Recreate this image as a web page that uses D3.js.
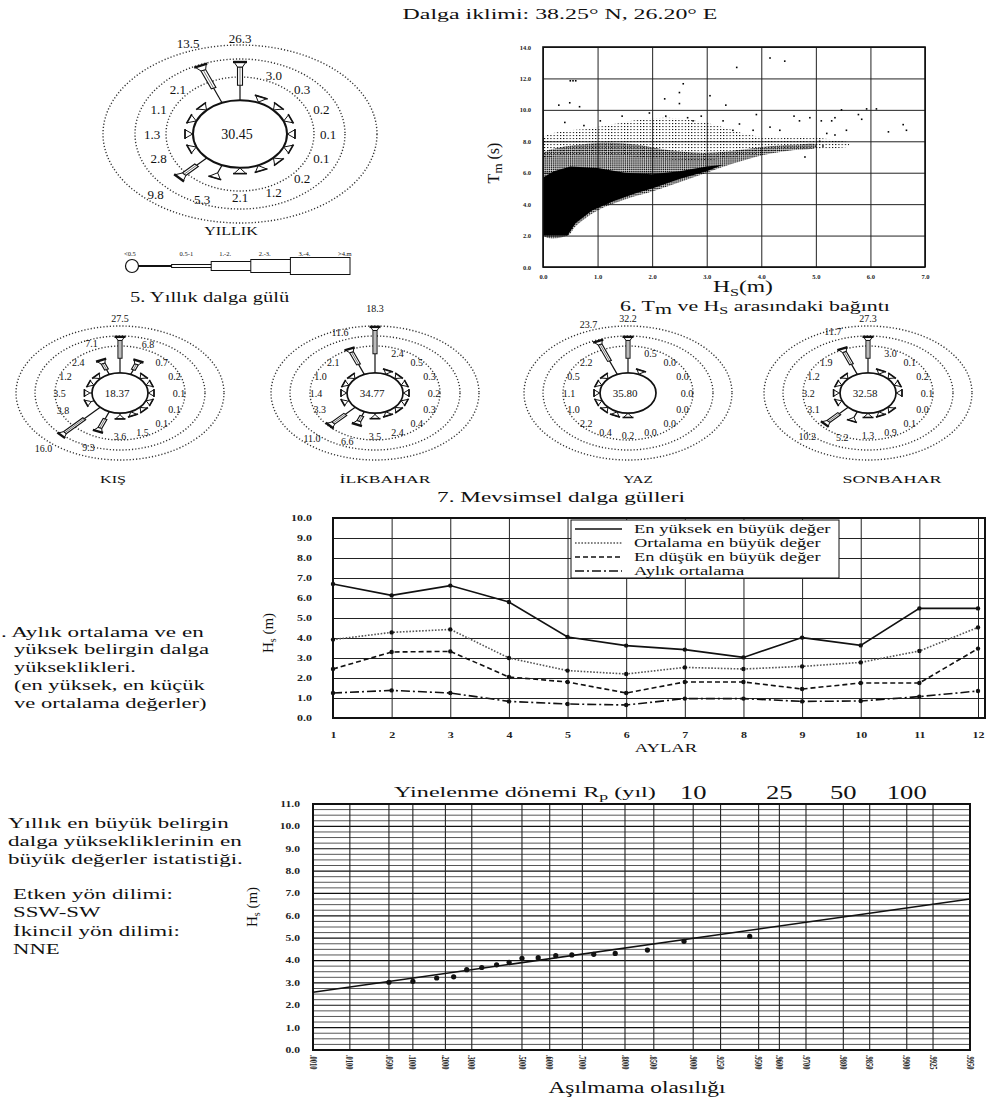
<!DOCTYPE html>
<html>
<head>
<meta charset="utf-8">
<script src="https://cdn.jsdelivr.net/npm/d3@7"></script>
<style>
body { margin: 0; background: #fff; }
svg, svg text { font-family: "Liberation Serif", "Times New Roman", "DejaVu Serif", serif; }
</style>
</head>
<body>
<svg id="page" width="989" height="1103"></svg>
<script>
// ---- wave roses (percent per direction, N clockwise) ----
var directions = ["N","NNE","NE","ENE","E","ESE","SE","SSE","S","SSW","SW","WSW","W","WNW","NW","NNW"];
var annualRose = [26.3,3.0,0.3,0.2,0.1,0.1,0.2,1.2,2.1,5.3,9.8,2.8,1.3,1.1,2.1,13.5];
var annualCalm = 30.45;
var seasonNames = ["KIŞ","İLKBAHAR","YAZ","SONBAHAR"];
var winterRose = [27.5,6.8,0.7,0.2,0.1,0.1,0.1,1.5,3.6,9.3,16.0,3.8,3.5,1.2,2.4,7.1];
var springRose = [18.3,2.4,0.5,0.3,0.2,0.3,0.4,2.4,3.5,6.6,11.0,3.3,1.4,1.0,2.1,11.6];
var summerRose = [32.2,0.5,0.0,0.0,0.0,0.0,0.0,0.0,0.2,0.4,2.2,1.0,1.1,0.5,2.2,23.7];
var autumnRose = [27.3,3.0,0.1,0.2,0.1,0.0,0.1,0.9,1.3,5.2,10.2,3.1,3.2,1.2,1.9,11.7];
var seasonCalm = [18.37,34.77,35.80,32.58];
var heightClasses = ["<0.5","0.5-1","1.-2.","2.-3.","3.-4.",">4.m"];

// ---- Tm vs Hs scatter: cloud outlines [Hs, Tm] and single points ----
var scatterCore = [[0.0,2.0],[0.45,2.0],[0.6,2.8],[0.9,3.6],[1.3,4.2],[1.7,4.7],[2.0,5.0],[2.5,5.6],[3.0,6.1],[3.3,6.5],
  [3.0,6.4],[2.5,6.1],[2.0,5.9],[1.5,6.0],[1.0,6.3],[0.5,6.4],[0.2,6.1],[0.0,5.7]];
var scatterHalo = [[0.0,5.5],[0.0,7.2],[0.3,7.6],[0.7,7.8],[1.2,7.9],[1.7,7.8],[2.2,7.5],[2.7,7.3],[3.2,7.3],[3.7,7.5],
  [4.2,7.7],[4.7,7.8],[5.0,7.8],[5.0,7.6],[4.5,7.4],[4.0,7.1],[3.5,6.6],[3.0,6.0],[2.5,5.4],[2.0,4.8],[1.5,4.3],
  [1.0,3.6],[0.6,2.6],[0.45,2.0],[0.0,2.0]];
var scatterFringe = [[0.0,7.0],[0.0,8.2],[0.3,8.6],[0.8,8.8],[1.3,9.1],[1.8,9.4],[2.3,9.5],[2.8,9.3],[3.3,8.9],[3.8,8.4],
  [4.3,8.2],[4.8,8.3],[5.3,8.1],[5.6,7.9],[5.6,7.7],[5.0,7.5],[4.3,7.4],[3.5,7.0],[3.0,6.8],[2.0,6.9],[1.0,7.2],[0.3,7.1]];
var scatterOutliers = [[0.50,11.85],[0.55,11.85],[0.60,11.85],[4.16,13.3],[4.43,13.1],[3.55,12.7],[2.57,11.66],[2.50,11.1],
  [2.23,10.7],[3.06,10.9],[2.50,10.4],[3.35,10.3],[0.29,10.3],[0.49,10.45],[0.67,10.2],[5.47,10.0],[5.93,10.06],[6.11,10.06],
  [5.78,9.7],[5.84,9.4],[6.33,8.6],[6.60,9.06],[6.66,8.7],[5.35,9.5],[5.29,9.3],[5.10,9.3],[4.89,9.5],[4.70,9.3],[4.60,9.6],
  [3.91,9.7],[5.56,8.7],[5.35,8.4],[5.20,8.5],[5.07,8.0],[5.13,7.7],[4.80,7.0],[3.60,9.1],[3.85,8.7],[4.16,8.9],[4.34,8.7],
  [3.30,9.3],[3.48,8.7],[2.75,9.3],[0.40,9.2],[0.75,9.0],[1.05,9.3],[1.45,9.6],[1.95,9.8],[2.25,9.6],[2.65,9.5],[2.90,9.6]];

// ---- monthly Hs (m) ----
var months = [1,2,3,4,5,6,7,8,9,10,11,12];
var maxOfMax = [6.70,6.13,6.62,5.80,4.05,3.62,3.42,3.03,4.02,3.63,5.48,5.48];
var meanOfMax = [3.92,4.28,4.43,3.00,2.37,2.20,2.53,2.45,2.58,2.78,3.35,4.53];
var minOfMax = [2.45,3.30,3.33,2.05,1.80,1.25,1.80,1.80,1.45,1.75,1.75,3.47];
var monthlyMean = [1.25,1.38,1.25,0.83,0.70,0.65,0.97,0.97,0.83,0.85,1.07,1.35];
var seriesNames = ["En yüksek en büyük değer","Ortalama en büyük değer","En düşük en büyük değer","Aylık ortalama"];

// ---- extreme value statistics ----
var probTicks = [0.001,0.01,0.05,0.1,0.2,0.3,0.5,0.6,0.7,0.8,0.85,0.9,0.925,0.95,0.96,0.97,0.98,0.985,0.99,0.9925,0.995];
var returnPeriods = [10,25,50,100];
var annualMaxP = [0.05,0.10,0.17,0.23,0.28,0.34,0.40,0.45,0.50,0.56,0.62,0.67,0.73,0.78,0.84,0.89,0.945];
var annualMaxHs = [3.03,3.07,3.22,3.27,3.59,3.69,3.81,3.92,4.10,4.13,4.22,4.25,4.28,4.32,4.47,4.86,5.08];
var fitP = [0.001,0.995];
var fitHs = [2.58,6.75];

var serif = "'Liberation Serif', 'Times New Roman', serif";
var svg = d3.select("#page").attr("font-family", serif);
svg.append("rect").attr("width",989).attr("height",1103).attr("fill","#fff");
var ink = "#111";

function label(x, y, s, size, anchor) {
  return svg.append("text").attr("x",x).attr("y",y).attr("font-size",size).attr("font-family",serif)
    .attr("text-anchor",anchor || "start").attr("fill",ink).text(s);
}
// the scan is stretched sideways: widen a text about its anchor x
function stretch(sel, f) {
  sel.each(function() {
    var t = d3.select(this), x0 = +t.attr("x") || 0;
    t.attr("transform", "translate(" + x0 * (1 - f) + ",0) scale(" + f + ",1)");
  });
  return sel;
}
function fit(sel, w) {
  return stretch(sel, w / sel.node().getBBox().width);
}

fit(label(560, 19, "Dalga iklimi: 38.25° N, 26.20° E", 15, "middle"), 315);

// ===== wave roses =====
var deg = Math.PI / 180;
function drawRose(values, calm, o) {
  var g = svg.append("g");
  g.append("g").attr("transform","translate(" + o.cx + "," + o.cy + ")")
    .selectAll("ellipse").data(o.ringRx).enter().append("ellipse")
      .attr("rx", function(d) { return d; })
      .attr("ry", function(d, i) { return o.ringRy[i]; })
      .attr("fill","none").attr("stroke","#333").attr("stroke-width",1.4)
      .attr("stroke-dasharray","1.2,2");

  var len = d3.scaleLinear().domain([o.p0, 20]).range([o.rc, o.rc + o.k * (20 - o.p0)]);
  function tipOf(p) { return p > 20 ? o.truncLen : Math.max(o.rc + o.minLen, len(p)); }

  var sg = g.append("g").attr("transform","translate(" + o.cx + "," + o.cy + ") scale(1," + o.sq + ")");
  var spokes = sg.selectAll("g.spoke")
      .data(values.map(function(v, i) { return {v: v, i: i}; }).filter(function(d) { return d.v > 0; }))
    .enter().append("g")
      .attr("class","spoke")
      .attr("transform", function(d) { return "rotate(" + d.i * 22.5 + ")"; });

  spokes.each(function(d) {
    var s = d3.select(this), t = tipOf(d.v), base = t - o.capL;
    var big = t - o.rc > 3 * o.capL;
    s.append("line").attr("x1",0).attr("x2",0).attr("y1",-o.rc).attr("y2",-base)
      .attr("stroke",ink).attr("stroke-width",1.2).attr("vector-effect","non-scaling-stroke");
    if (big) {
      var bl = (base - o.rc) * 0.55;
      s.append("rect").attr("x",-o.bodyW / 2).attr("y",-base).attr("width",o.bodyW).attr("height",bl)
        .attr("fill","#fff").attr("stroke",ink).attr("stroke-width",1.1).attr("vector-effect","non-scaling-stroke");
      s.append("line").attr("x1",0).attr("x2",0).attr("y1",-base).attr("y2",-base + bl)
        .attr("stroke","#555").attr("stroke-width",0.8).attr("vector-effect","non-scaling-stroke");
    }
    var bw = big ? o.bodyW : 1;
    s.append("path")
      .attr("d","M" + (-bw / 2) + "," + (-base) + "L" + (-o.capW / 2) + "," + (-t) +
                "L" + (o.capW / 2) + "," + (-t) + "L" + (bw / 2) + "," + (-base) + "Z")
      .attr("fill","#fff").attr("stroke",ink).attr("stroke-width",1).attr("vector-effect","non-scaling-stroke");
    s.append("line").attr("x1",-o.capW / 2 - 1).attr("x2",o.capW / 2 + 1).attr("y1",-t).attr("y2",-t)
      .attr("stroke",ink).attr("stroke-width",big ? 2.4 : 1.6).attr("vector-effect","non-scaling-stroke");
  });

  sg.append("circle").attr("r",o.rc).attr("fill","#fff").attr("stroke",ink)
    .attr("stroke-width",o.circleW).attr("vector-effect","non-scaling-stroke");

  g.selectAll("text.lab").data(values).enter().append("text")
    .attr("class","lab")
    .attr("x", function(v, i) { var r = Math.max(o.labelMin, tipOf(v) + o.labelOff); return o.cx + r * Math.sin(i * 22.5 * deg); })
    .attr("y", function(v, i) { var r = Math.max(o.labelMin, tipOf(v) + o.labelOff); return o.cy - r * Math.cos(i * 22.5 * deg) * o.sq; })
    .attr("dy","0.35em").attr("text-anchor","middle").attr("font-size",o.fsLabel).attr("fill",ink)
    .attr("font-family",serif)
    .text(function(v) { return d3.format(".1f")(v); });

  g.append("text").attr("x",o.cx - 3).attr("y",o.cy).attr("dy","0.35em").attr("text-anchor","middle")
    .attr("font-size",o.fsCenter).attr("fill",ink).attr("font-family",serif).text(d3.format(".2f")(calm));
  fit(g.append("text").attr("x",o.nameX).attr("y",o.nameY).attr("text-anchor","middle")
    .attr("font-size",o.fsName).attr("fill",ink).attr("font-family",serif).text(o.name), o.nameW);
}

drawRose(annualRose, annualCalm, {
  cx: 240, cy: 134, rc: 47, ringRx: [74,105,137], ringRy: [57,75,89], sq: 0.72,
  k: 4.5, p0: 1.1, minLen: 8, truncLen: 100, capL: 7, capW: 12, bodyW: 5, circleW: 2,
  labelMin: 86, labelOff: 33, fsLabel: 13, fsCenter: 14,
  name: "YILLIK", nameX: 231, nameY: 235, nameW: 54, fsName: 12
});

var seasonCx = [120, 375, 628, 868];
var seasonNameX = [113, 385, 638, 892];
var seasonNameW = [26, 92, 30, 100];
[winterRose, springRose, summerRose, autumnRose].forEach(function(vals, i) {
  drawRose(vals, seasonCalm[i], {
    cx: seasonCx[i], cy: 393, rc: 28, ringRx: [65,85,104], ringRy: [47,57,67], sq: 0.72,
    k: 3.8, p0: 1.5, minLen: 6, truncLen: 78, capL: 5, capW: 9, bodyW: 4, circleW: 1.7,
    labelMin: 53, labelOff: 25, fsLabel: 10, fsCenter: 11,
    name: seasonNames[i], nameX: seasonNameX[i], nameY: 483, nameW: seasonNameW[i], fsName: 11
  });
});

// height-class key under the annual rose
var keyX = d3.scalePoint().domain(heightClasses).range([132, 330]);
var keyG = svg.append("g");
keyG.append("circle").attr("cx",keyX("<0.5")).attr("cy",266).attr("r",6.5)
  .attr("fill","#fff").attr("stroke",ink).attr("stroke-width",1.2);
var keyH = [0, 1, 3, 9, 13, 17];
heightClasses.slice(1).forEach(function(c, i) {
  var x0 = keyX(heightClasses[i]) + (i === 0 ? 6.5 : 0), x1 = i === 4 ? 350 : keyX(heightClasses[i + 2]);
  var h = keyH[i + 1];
  keyG.append("rect").attr("x",x0).attr("y",266 - h / 2).attr("width",x1 - x0).attr("height",Math.max(h, 0.8))
    .attr("fill","#fff").attr("stroke",ink).attr("stroke-width",1);
});
keyG.selectAll("text").data(heightClasses).enter().append("text")
  .attr("x", function(d, i) { return keyX(d) + (i === 0 ? -8 : 8); })
  .attr("y",256).attr("font-size",6.5).attr("fill",ink).attr("font-family",serif).text(function(d) { return d; });
fit(label(130, 302, "5.  Yıllık dalga gülü", 15), 160);
fit(label(561, 502, "7.  Mevsimsel dalga gülleri", 15, "middle"), 248);

// ===== Tm vs Hs scatter =====
var defs = svg.append("defs");
defs.append("pattern").attr("id","stipDense").attr("patternUnits","userSpaceOnUse").attr("width",1.9).attr("height",1.9)
  .append("rect").attr("width",1.3).attr("height",1.3).attr("fill","#000");
defs.append("pattern").attr("id","stipLight").attr("patternUnits","userSpaceOnUse").attr("width",3.2).attr("height",3)
  .append("rect").attr("width",1.1).attr("height",1.1).attr("fill","#000");
defs.append("clipPath").attr("id","scClip").append("rect").attr("x",543).attr("y",47).attr("width",382).attr("height",220);

var sx = d3.scaleLinear().domain([0,7]).range([543,925]);
var sy = d3.scaleLinear().domain([0,14]).range([267,47]);
var sc = svg.append("g");

function styleAxis(a, size, f) {
  a.attr("font-family", serif);
  a.select(".domain").remove();
  a.selectAll(".tick line").attr("stroke","#222").attr("stroke-width",1);
  var t = a.selectAll(".tick text").attr("font-size",size).attr("font-weight","bold")
    .attr("font-family",serif).attr("fill","#222");
  if (f) stretch(t, f);
}
styleAxis(sc.append("g").attr("transform","translate(0,267)")
  .call(d3.axisBottom(sx).tickValues(d3.range(0,8)).tickSize(-220).tickPadding(7).tickFormat(d3.format(".1f"))), 6.5);
styleAxis(sc.append("g").attr("transform","translate(543,0)")
  .call(d3.axisLeft(sy).tickValues(d3.range(0,15,2)).tickSize(-382).tickPadding(12).tickFormat(d3.format(".1f"))), 6.5);

var cloud = d3.line().x(function(d) { return sx(d[0]); }).y(function(d) { return sy(d[1]); })
  .curve(d3.curveCatmullRomClosed);
var cg = sc.append("g").attr("clip-path","url(#scClip)");
cg.append("path").attr("d",cloud(scatterFringe)).attr("fill","url(#stipLight)");
cg.append("path").attr("d",cloud(scatterHalo)).attr("fill","url(#stipDense)");
cg.append("path").attr("d",cloud.curve(d3.curveLinearClosed)(scatterCore)).attr("fill","#000");
cg.selectAll("rect.pt").data(scatterOutliers).enter().append("rect").attr("class","pt")
  .attr("x", function(d) { return sx(d[0]) - 0.8; }).attr("y", function(d) { return sy(d[1]) - 0.8; })
  .attr("width",1.6).attr("height",1.6).attr("fill","#000");
sc.append("rect").attr("x",543).attr("y",47).attr("width",382).attr("height",220)
  .attr("fill","none").attr("stroke",ink).attr("stroke-width",1.6);

var hsT = label(743, 292, "H", 16, "middle");
hsT.append("tspan").attr("font-size",11).attr("dy",4).text("S");
hsT.append("tspan").attr("dy",-4).text("(m)");
fit(hsT, 60);
var tmT = svg.append("text").attr("transform","translate(499,163) rotate(-90)").attr("text-anchor","middle")
  .attr("font-size",16).attr("fill",ink).attr("font-family",serif).text("T");
tmT.append("tspan").attr("font-size",13).attr("dy",3).text("m");
tmT.append("tspan").attr("dy",-3).text(" (s)");
var capT = label(755, 311, "6. T", 15, "middle");
capT.append("tspan").attr("font-size",15).attr("dy",3).text("m");
capT.append("tspan").attr("dy",-3).text(" ve H");
capT.append("tspan").attr("font-size",11).attr("dy",3).text("S");
capT.append("tspan").attr("dy",-3).text("  arasındaki  bağıntı");
fit(capT, 270);

// ===== monthly chart =====
var mx = d3.scaleLinear().domain([1,12]).range([333,978]);
var my = d3.scaleLinear().domain([0,10]).range([718,518]);
var mg = svg.append("g");
styleAxis(mg.append("g").attr("transform","translate(0,718)")
  .call(d3.axisBottom(mx).tickValues(months).tickSize(-200).tickPadding(14).tickFormat(d3.format("d"))), 8, 1.5);
styleAxis(mg.append("g").attr("transform","translate(333,0)")
  .call(d3.axisLeft(my).tickValues(d3.range(0,11)).tickSize(-652).tickPadding(21).tickFormat(d3.format(".1f"))), 7.5, 1.6);
mg.append("rect").attr("x",333).attr("y",518).attr("width",652).attr("height",200)
  .attr("fill","none").attr("stroke",ink).attr("stroke-width",2);

var monthSeries = [maxOfMax, meanOfMax, minOfMax, monthlyMean];
var dashes = [null, "1.6,1.6", "5,3", "9,3,2,3"];
var lineColors = [ink, "#555", ink, ink];
var mline = d3.line().x(function(d, i) { return mx(months[i]); }).y(function(d) { return my(d); });
monthSeries.forEach(function(s, k) {
  mg.append("path").attr("d",mline(s)).attr("fill","none").attr("stroke",lineColors[k])
    .attr("stroke-width",1.6).attr("stroke-dasharray",dashes[k]);
  mg.selectAll("circle.m" + k).data(s).enter().append("circle").attr("class","m" + k)
    .attr("cx", function(d, i) { return mx(months[i]); }).attr("cy", function(d) { return my(d); })
    .attr("r",2.2).attr("fill",ink);
});

var legendW = [198, 188, 188, 111];
var lg = mg.append("g");
lg.append("rect").attr("x",571).attr("y",520).attr("width",268).attr("height",58)
  .attr("fill","#fff").attr("stroke",ink).attr("stroke-width",1);
seriesNames.forEach(function(n, k) {
  var y = 529 + k * 14;
  lg.append("line").attr("x1",575).attr("x2",622).attr("y1",y).attr("y2",y)
    .attr("stroke",lineColors[k]).attr("stroke-width",1.6).attr("stroke-dasharray",dashes[k]);
  fit(lg.append("text").attr("x",634).attr("y",y).attr("dy","0.35em").attr("font-size",12.5)
    .attr("font-family",serif).attr("fill",ink).text(n), legendW[k]);
});

fit(label(666, 752, "AYLAR", 13, "middle"), 63);
var mhs = svg.append("text").attr("transform","translate(273,633) rotate(-90)").attr("text-anchor","middle")
  .attr("font-size",15).attr("fill",ink).attr("font-family",serif).text("H");
mhs.append("tspan").attr("font-size",10).attr("dy",3).text("s");
mhs.append("tspan").attr("dy",-3).text(" (m)");

[[". Aylık ortalama ve en", 1, 637, 204], ["yüksek belirgin dalga", 14, 654, 196], ["yükseklikleri.", 14, 672, 122],
 ["(en yüksek, en küçük", 14, 690, 192], ["ve ortalama değerler)", 14, 708, 193]].forEach(function(t) {
  fit(label(t[1], t[2], t[0], 14.5), t[3]);
});

// ===== extreme value chart (Gumbel paper) =====
function gumbel(p) { return -Math.log(-Math.log(p)); }
var gx = d3.scaleLinear().domain([gumbel(0.001), gumbel(0.995)]).range([313,970]);
var gy = d3.scaleLinear().domain([0,11]).range([1050,804]);
var eg = svg.append("g");
eg.selectAll("line.h").data(d3.range(0, 11.01, 0.25)).enter().append("line").attr("class","h")
  .attr("x1",313).attr("x2",970).attr("y1",function(d) { return gy(d); }).attr("y2",function(d) { return gy(d); })
  .attr("stroke", function(d) { return d % 1 === 0 ? "#111" : "#444"; })
  .attr("stroke-width", function(d) { return d % 1 === 0 ? 1.2 : 0.9; });
eg.selectAll("line.v").data(probTicks).enter().append("line").attr("class","v")
  .attr("x1",function(d) { return gx(gumbel(d)); }).attr("x2",function(d) { return gx(gumbel(d)); })
  .attr("y1",804).attr("y2",1050).attr("stroke","#222").attr("stroke-width",1.1);
eg.append("rect").attr("x",313).attr("y",804).attr("width",657).attr("height",246)
  .attr("fill","none").attr("stroke",ink).attr("stroke-width",2);
styleAxis(eg.append("g").attr("transform","translate(313,0)")
  .call(d3.axisLeft(gy).tickValues(d3.range(0,12)).tickSize(0).tickPadding(13).tickFormat(d3.format(".1f"))), 7.5, 1.55);
eg.selectAll("text.p").data(probTicks).enter().append("text").attr("class","p")
  .attr("transform", function(d) { return "translate(" + gx(gumbel(d)) + ",1055) scale(1.5,1) rotate(90)"; })
  .attr("dy","0.35em").attr("font-size",6.5).attr("font-weight","bold").attr("fill","#222").attr("font-family",serif)
  .text(function(d) { return d3.format(".4f")(d).replace(/^0/, ""); });

eg.append("path")
  .attr("d", d3.line().x(function(d, i) { return gx(gumbel(fitP[i])); }).y(function(d) { return gy(d); })(fitHs))
  .attr("fill","none").attr("stroke",ink).attr("stroke-width",1.5);
eg.selectAll("circle.am").data(annualMaxHs).enter().append("circle").attr("class","am")
  .attr("cx", function(d, i) { return gx(gumbel(annualMaxP[i])); }).attr("cy", function(d) { return gy(d); })
  .attr("r",2.6).attr("fill",ink);

var rpT = label(394, 797, "Yinelenme dönemi   R", 15);
rpT.append("tspan").attr("font-size",11).attr("dy",3).text("p");
rpT.append("tspan").attr("dy",-3).text(" (yıl)");
fit(rpT, 262);
stretch(eg.selectAll("text.rp").data(returnPeriods).enter().append("text").attr("class","rp")
  .attr("x", function(d) { return gx(gumbel(1 - 1 / d)); }).attr("y",799).attr("font-family",serif)
  .attr("text-anchor","middle").attr("font-size",19).attr("fill",ink).text(function(d) { return d; }), 1.4);

fit(label(637, 1093, "Aşılmama olasılığı", 16, "middle"), 178);
var ehs = svg.append("text").attr("transform","translate(257,907) rotate(-90)").attr("text-anchor","middle")
  .attr("font-size",15).attr("fill",ink).attr("font-family",serif).text("H");
ehs.append("tspan").attr("font-size",10).attr("dy",3).text("s");
ehs.append("tspan").attr("dy",-3).text(" (m)");

[["Yıllık en büyük belirgin", 8, 828, 222], ["dalga yüksekliklerinin en", 8, 846, 235],
 ["büyük değerler istatistiği.", 8, 864, 235], ["Etken yön dilimi:", 13, 899, 160], ["SSW-SW", 13, 917, 88],
 ["İkincil yön dilimi:", 13, 936, 167], ["NNE", 13, 954, 47]].forEach(function(t) {
  fit(label(t[1], t[2], t[0], 14.5), t[3]);
});
</script>
</body>
</html>
